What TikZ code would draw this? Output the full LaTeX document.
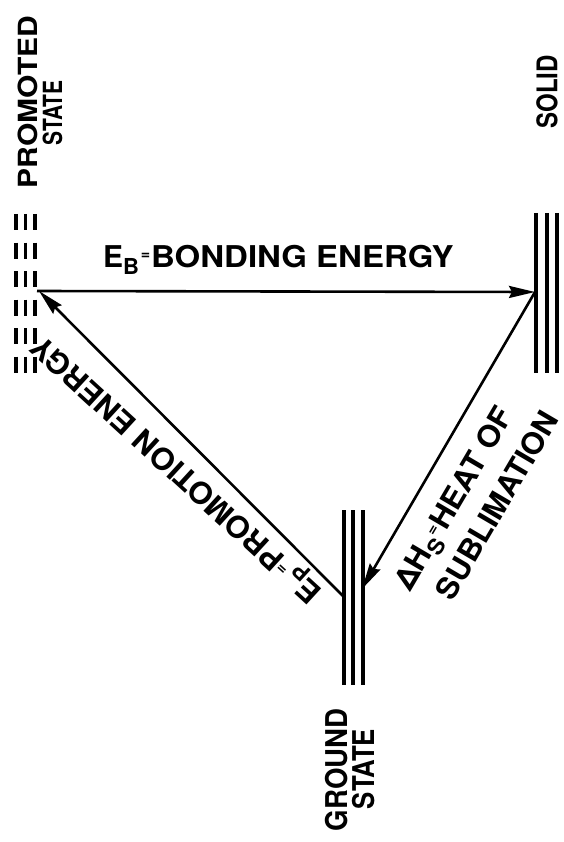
\documentclass[tikz,border=0pt]{standalone}
\usepackage{fontspec}
\setmainfont{TeX Gyre Heros}
\usetikzlibrary{arrows.meta}
\newcommand\sbx[3][1]{\scalebox{#2}[#1]{#3}}
\newcommand\subl[1]{\raisebox{-7pt}{\fontsize{22}{22}\selectfont #1}}
\newcommand\eqs{\raisebox{8pt}{\fontsize{16}{16}\selectfont =}}
\begin{document}
\begin{tikzpicture}[x=1pt,y=-1pt,
  lvl/.style={line width=3.4pt},
  plvl/.style={line width=3.4pt, dash pattern=on 16pt off 12.5pt},
  arr/.style={line width=2.6pt, -{Stealth[length=26pt,width=12pt,inset=3pt]}},
  lbl/.style={inner sep=0pt, outer sep=0pt, font=\fontsize{30}{34}\selectfont\bfseries}]
\fill[white] (0,0) rectangle (563,842);
\useasboundingbox (0,0) rectangle (563,842);

% energy levels
\foreach \x in {16,25.5,35} \draw[plvl] (\x,214) -- (\x,376);
\foreach \x in {536,547,557} \draw[lvl] (\x,213) -- (\x,373);
\foreach \x in {344,353,363} \draw[lvl] (\x,510) -- (\x,685);

% attachment points
\coordinate (prom) at (37,291);
\coordinate (promT) at (39,291);
\coordinate (solid) at (535,292);
\coordinate (gndR) at (362,589);
\coordinate (gndL) at (344,597);

% arrows
\draw[arr] (prom) -- (solid);
\draw[arr] (solid) -- (gndR);
\draw[arr] (gndL) -- (promT);

% state labels
\node[lbl, rotate=90] (promA) at (27.5,102) {\sbx[0.88]{1.0}{PROMOTED}};
\node[lbl, rotate=90] (promB) at (52.5,113) {\sbx[0.88]{0.7}{STATE}};
\node[lbl, rotate=90] (solidL) at (547,92) {\sbx[0.95]{0.8}{SOLID}};
\node[lbl, rotate=90] (gndA) at (336.5,770) {\sbx{0.92}{GROUND}};
\node[lbl, rotate=90] (gndB) at (363.5,769) {\sbx{0.86}{STATE}};

% arrow labels
\node[lbl, anchor=base west] (bond) at (103,267)
  {E\subl{B}\hspace{2pt}\eqs\hspace{1pt}\sbx{1.1}{BONDING ENERGY}};
\node[lbl, rotate=137.5] (promE) at (178,468)
  {\sbx{1.04}{E\subl{P}\hspace{4pt}\eqs PROMOTION ENERGY}};
\node[lbl, rotate=59.6] (heat1) at (456,500)
  {\sbx{1.05}{ΔH\subl{S}\eqs HEAT OF}};
\node[lbl, rotate=59.6] (heat2) at (497,505)
  {\sbx{1.03}{SUBLIMATION}};
\end{tikzpicture}
\end{document}
